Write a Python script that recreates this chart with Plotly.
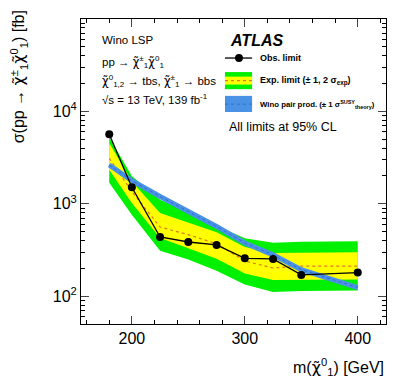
import plotly.graph_objects as go

# chargino/neutralino mass points [GeV]
mass = [180, 200, 225, 250, 275, 300, 325, 350, 400]

obs_limit = [5650, 1510, 437, 386, 359, 257, 253, 170, 180]
exp_limit = [3110, 1358, 561, 463, 370, 240, 202, 212, 212]
exp_p1 = [4550, 1742, 794, 630, 493, 340, 294, 296, 298]
exp_m1 = [2330, 1017, 427, 330, 255, 176, 150, 151, 152]
exp_p2 = [5250, 2005, 1105, 810, 580, 425, 379, 389, 392]
exp_m2 = [1690, 761, 311, 250, 189, 134, 111, 114, 115]
wino_xsec = [2630, 1783, 1199, 826, 569, 377, 280, 194, 124]

FONT = "Liberation Sans, Arial, Helvetica, sans-serif"
GREEN = "#00f000"
YELLOW = "#ffff00"
ORANGE = "#e07820"
BLUE = "#4a92e6"
BLUE_DARK = "#2f6fc8"

# chi with tilde, DejaVu places the combining tilde nicely over the letter
CHI = '<span style="font-family:DejaVu Sans">χ̃</span>'


def band(lo, hi, color):
    return go.Scatter(
        x=mass + mass[::-1],
        y=hi + lo[::-1],
        fill="toself",
        fillcolor=color,
        line=dict(width=0),
        mode="lines",
        hoverinfo="skip",
        showlegend=False,
    )


fig = go.Figure()
fig.add_trace(band(exp_m2, exp_p2, GREEN))
fig.add_trace(band(exp_m1, exp_p1, YELLOW))
fig.add_trace(go.Scatter(x=mass, y=exp_limit, mode="lines",
                         line=dict(color=ORANGE, width=1.2, dash="dot"), showlegend=False))
fig.add_trace(go.Scatter(x=mass, y=wino_xsec, mode="lines",
                         line=dict(color=BLUE, width=5), showlegend=False))
fig.add_trace(go.Scatter(x=mass, y=wino_xsec, mode="lines",
                         line=dict(color=BLUE_DARK, width=1, dash="dot"), showlegend=False))
fig.add_trace(go.Scatter(x=mass, y=obs_limit, mode="lines+markers",
                         line=dict(color="black", width=1.3),
                         marker=dict(color="black", size=8), showlegend=False))

# hand-made legend (paper coordinates)
shapes = [
    dict(type="line", x0=0.472, x1=0.561, y0=0.872, y1=0.872, line=dict(color="black", width=1.3)),
    dict(type="circle", x0=0.505, x1=0.531, y0=0.859, y1=0.885, fillcolor="black", line=dict(width=0)),
    dict(type="rect", x0=0.472, x1=0.561, y0=0.770, y1=0.826, fillcolor=GREEN, line=dict(width=0)),
    dict(type="rect", x0=0.472, x1=0.561, y0=0.785, y1=0.811, fillcolor=YELLOW, line=dict(width=0)),
    dict(type="line", x0=0.472, x1=0.561, y0=0.798, y1=0.798, line=dict(color=ORANGE, width=1.2, dash="dot")),
    dict(type="rect", x0=0.472, x1=0.561, y0=0.695, y1=0.748, fillcolor=BLUE, line=dict(width=0)),
    dict(type="line", x0=0.472, x1=0.561, y0=0.721, y1=0.721, line=dict(color=BLUE_DARK, width=1, dash="dot")),
]
for s in shapes:
    s.update(xref="paper", yref="paper")

annotations = [
    dict(x=0.482, y=0.931, text="<b><i>ATLAS</i></b>", font=dict(size=16)),
    dict(x=0.580, y=0.872, text="<b>Obs. limit</b>", font=dict(size=9)),
    dict(x=0.580, y=0.798, text="<b>Exp. limit (± 1, 2 σ<sub>exp</sub>)</b>", font=dict(size=9)),
    dict(x=0.580, y=0.721, text="<b>Wino pair prod. (± 1 σ<sup>SUSY</sup><sub>theory</sub>)</b>", font=dict(size=7.8)),
    dict(x=0.479, y=0.646, text="All limits at 95% CL", font=dict(size=12.5)),
    dict(x=0.062, y=0.930, text="Wino LSP", font=dict(size=11.5)),
    dict(x=0.062, y=0.858, text=f"pp → {CHI}<sup>±</sup><sub>1</sub>{CHI}<sup>0</sup><sub>1</sub>", font=dict(size=11.5)),
    dict(x=0.062, y=0.798, text=f"{CHI}<sup>0</sup><sub>1,2</sub> → tbs, {CHI}<sup>±</sup><sub>1</sub> → bbs", font=dict(size=11.5)),
    dict(x=0.062, y=0.738, text="√s = 13 TeV, 139 fb<sup>-1</sup>", font=dict(size=11.5)),
    # axis titles, ROOT style (aligned to the axis ends)
    dict(x=1.0, y=-0.140, text=f"m({CHI}<sup>0</sup><sub>1</sub>) [GeV]", font=dict(size=16),
         xanchor="right"),
    dict(x=-0.205, y=1.035, text=f"σ(pp → {CHI}<sup>±</sup><sub>1</sub>{CHI}<sup>0</sup><sub>1</sub>) [fb]",
         font=dict(size=16), textangle=-90, xanchor="center", yanchor="top"),
]
for a in annotations:
    a.setdefault("xanchor", "left")
    a.setdefault("yanchor", "middle")
    a.update(xref="paper", yref="paper", showarrow=False)
    a["font"].update(family=FONT, color="black")

x_minor = [160, 180, 220, 240, 260, 280, 320, 340, 360, 380, 420]
y_minor = [m * 10 ** e for e in range(1, 5) for m in range(2, 10)]

# the page body has an 8px default margin, so the figure is 8px smaller
# and the left/top margins are reduced by the same amount
fig.update_layout(
    width=399,
    height=379,
    margin=dict(l=73, r=21, t=11, b=63),
    paper_bgcolor="white",
    plot_bgcolor="white",
    font=dict(family=FONT, color="black", size=16),
    shapes=shapes,
    annotations=annotations,
    xaxis=dict(
        range=[155, 425],
        tickvals=[200, 300, 400],
        ticks="inside",
        ticklen=8,
        tickwidth=1,
        mirror="allticks",
        showline=True,
        linecolor="black",
        linewidth=1,
        showgrid=False,
        zeroline=False,
        tickfont=dict(size=16),
        minor=dict(tickvals=x_minor, ticks="inside", ticklen=4, tickcolor="black", showgrid=False),
    ),
    yaxis=dict(
        type="log",
        range=[1.699, 5.0],
        tickvals=[100, 1000, 10000],
        ticktext=["10<sup>2</sup>", "10<sup>3</sup>", "10<sup>4</sup>"],
        ticks="inside",
        ticklen=8,
        tickwidth=1,
        mirror="allticks",
        showline=True,
        linecolor="black",
        linewidth=1,
        showgrid=False,
        zeroline=False,
        tickfont=dict(size=16),
        minor=dict(tickvals=y_minor, ticks="inside", ticklen=4, tickcolor="black", showgrid=False),
    ),
)

fig.write_html("out.html")
